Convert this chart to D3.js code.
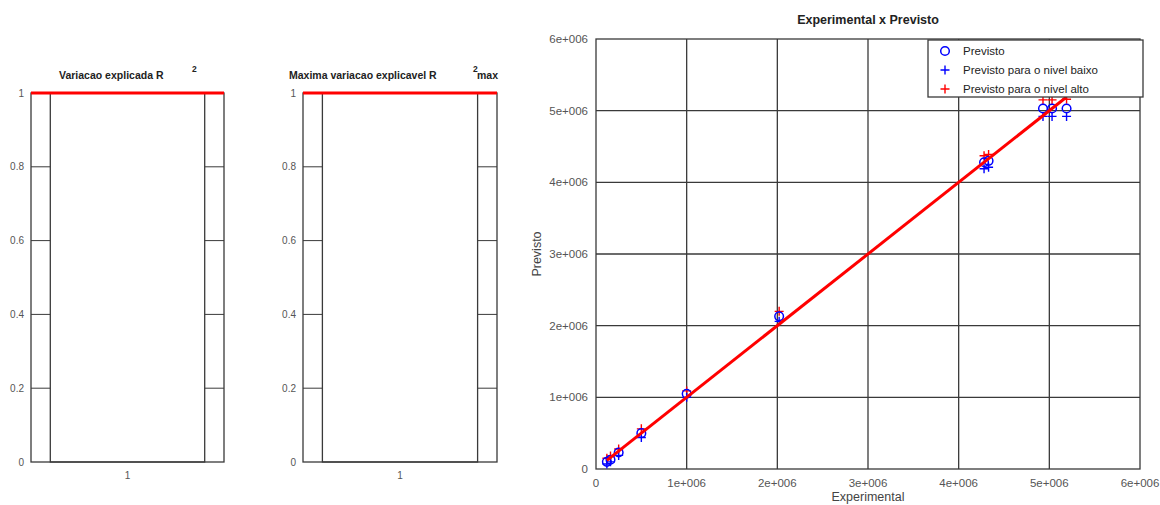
<!DOCTYPE html>
<html><head><meta charset="utf-8">
<script src="https://cdn.jsdelivr.net/npm/d3@7"></script>
<style>
body{margin:0;background:#fff;}
svg{display:block;font-family:"Liberation Sans",Arial,sans-serif;}
</style></head><body>
<svg id="c" width="1160" height="505"></svg>
<script>
// ---- data ----
const barCategories = [1];
const r2Values = [1];
const r2maxValues = [1];
const barYTicks = [0, 0.2, 0.4, 0.6, 0.8, 1];

const experimental = [120000,160000,250000,500000,1000000,2020000,4280000,4330000,4930000,5030000,5190000];
const previsto     = [100000,130000,230000,500000,1050000,2130000,4280000,4300000,5030000,5030000,5030000];
const previstoBaixo= [70000,100000,190000,440000,1000000,2060000,4190000,4210000,4920000,4920000,4920000];
const previstoAlto = [150000,180000,280000,560000,1090000,2200000,4370000,4390000,5150000,5150000,5160000];
const scatterTicks = [0,1e6,2e6,3e6,4e6,5e6,6e6];
const scatterTickLabels = ["0","1e+006","2e+006","3e+006","4e+006","5e+006","6e+006"];
const legendLabels = ["Previsto","Previsto para o nivel baixo","Previsto para o nivel alto"];

const svg = d3.select("#c");
const gridCol = "#3a3a3a", tickCol = "#555";

function barPanel(x0, x1, y0, y1, values, titleParts){
  const x = d3.scaleLinear().domain([0.5,1.5]).range([x0,x1]);
  const y = d3.scaleLinear().domain([0,1]).range([y1,y0]);
  const g = svg.append("g");
  g.selectAll("line.grid").data(barYTicks.filter(t=>t>0&&t<1)).join("line")
    .attr("x1",x0).attr("x2",x1).attr("y1",d=>y(d)).attr("y2",d=>y(d))
    .attr("stroke",gridCol).attr("stroke-width",1);
  g.selectAll("rect").data(barCategories).join("rect")
    .attr("x",d=>x(d-0.4)).attr("width",d=>x(d+0.4)-x(d-0.4))
    .attr("y",(d,i)=>y(values[i])).attr("height",(d,i)=>y(0)-y(values[i]))
    .attr("fill","#fff").attr("stroke",gridCol).attr("stroke-width",1.3);
  g.append("rect").attr("x",x0).attr("y",y0).attr("width",x1-x0).attr("height",y1-y0)
    .attr("fill","none").attr("stroke",gridCol).attr("stroke-width",1.3);
  g.selectAll("line.red").data(values).join("line")
    .attr("x1",x0).attr("x2",x1).attr("y1",d=>y(d)).attr("y2",d=>y(d))
    .attr("stroke","#ff0000").attr("stroke-width",2.8);
  g.selectAll("text.yt").data(barYTicks).join("text")
    .attr("x",x0-7).attr("y",d=>y(d)).attr("dy","0.35em").attr("text-anchor","end")
    .attr("font-size",10).attr("fill",tickCol).text(d=>d3.format("~g")(d));
  g.selectAll("text.xt").data(barCategories).join("text")
    .attr("x",d=>x(d)).attr("y",y1+17).attr("text-anchor","middle")
    .attr("font-size",10).attr("fill",tickCol).text(d=>d);
  const t = titleParts;
  g.append("text").attr("x",t.x).attr("y",y0-14).attr("font-size",10.5).attr("font-weight","bold")
    .attr("fill","#222").text(t.main);
  g.append("text").attr("x",t.supX).attr("y",y0-21).attr("font-size",8.5).attr("font-weight","bold")
    .attr("fill","#222").text("2");
  if(t.sub) g.append("text").attr("x",t.supX+4).attr("y",y0-14).attr("font-size",10.5).attr("font-weight","bold")
    .attr("fill","#222").text(t.sub);
}
barPanel(31,224,93,462,r2Values,{main:"Variacao explicada R",x:59,supX:192});
barPanel(303,497,93,462,r2maxValues,{main:"Maxima variacao explicavel R",x:289,supX:473,sub:"max"});

// ---- scatter ----
const L=596,R=1140,T=39,B=469;
const xs = d3.scaleLinear().domain([0,6e6]).range([L,R]);
const ys = d3.scaleLinear().domain([0,6e6]).range([B,T]);
const sg = svg.append("g");
sg.selectAll("line.vx").data(scatterTicks.slice(1,-1)).join("line")
  .attr("x1",d=>xs(d)).attr("x2",d=>xs(d)).attr("y1",T).attr("y2",B)
  .attr("stroke",gridCol).attr("stroke-width",1.3);
sg.selectAll("line.hy").data(scatterTicks.slice(1,-1)).join("line")
  .attr("x1",L).attr("x2",R).attr("y1",d=>ys(d)).attr("y2",d=>ys(d))
  .attr("stroke",gridCol).attr("stroke-width",1.3);
sg.append("rect").attr("x",L).attr("y",T).attr("width",R-L).attr("height",B-T)
  .attr("fill","none").attr("stroke",gridCol).attr("stroke-width",1.3);

sg.selectAll("text.xt").data(scatterTicks).join("text")
  .attr("x",d=>xs(d)).attr("y",B+18).attr("text-anchor","middle")
  .attr("font-size",11.5).attr("fill",tickCol).text((d,i)=>scatterTickLabels[i]);
sg.selectAll("text.yt").data(scatterTicks).join("text")
  .attr("x",L-8).attr("y",d=>ys(d)).attr("dy","0.35em").attr("text-anchor","end")
  .attr("font-size",11.5).attr("fill",tickCol).text((d,i)=>scatterTickLabels[i]);

const pts = experimental.map((e,i)=>({e,p:previsto[i],lo:previstoBaixo[i],hi:previstoAlto[i]}));
function plus(g, cx, cy, col){
  g.append("path").attr("d",`M${cx-4.5},${cy}H${cx+4.5}M${cx},${cy-4.5}V${cy+4.5}`)
    .attr("stroke",col).attr("stroke-width",1.4).attr("fill","none");
}
const mg = sg.append("g");
pts.forEach(d=>{ plus(mg, xs(d.e), ys(d.hi), "#ff0000"); });
pts.forEach(d=>{ plus(mg, xs(d.e), ys(d.lo), "#0000ff"); });
mg.selectAll("circle").data(pts).join("circle")
  .attr("cx",d=>xs(d.e)).attr("cy",d=>ys(d.p)).attr("r",4.3)
  .attr("fill","none").attr("stroke","#0000ff").attr("stroke-width",1.5);
const ext = d3.extent(experimental);
sg.append("line").attr("x1",xs(ext[0])).attr("y1",ys(ext[0])).attr("x2",xs(ext[1])).attr("y2",ys(ext[1]))
  .attr("stroke","#ff0000").attr("stroke-width",3);

// legend
const lg = sg.append("g");
lg.append("rect").attr("x",928).attr("y",40).attr("width",215).attr("height",57)
  .attr("fill","#fff").attr("stroke",gridCol).attr("stroke-width",1.3);
const ly = [51,70,89];
lg.append("circle").attr("cx",945).attr("cy",ly[0]).attr("r",4.3).attr("fill","none").attr("stroke","#0000ff").attr("stroke-width",1.5);
plus(lg,945,ly[1],"#0000ff");
plus(lg,945,ly[2],"#ff0000");
lg.selectAll("text").data(legendLabels).join("text")
  .attr("x",963).attr("y",(d,i)=>ly[i]).attr("dy","0.35em")
  .attr("font-size",11.5).attr("fill","#222").text(d=>d);

svg.append("text").attr("x",(L+R)/2).attr("y",24).attr("text-anchor","middle")
  .attr("font-size",12.5).attr("font-weight","bold").attr("fill","#222").text("Experimental x Previsto");
svg.append("text").attr("x",(L+R)/2).attr("y",501).attr("text-anchor","middle")
  .attr("font-size",12.5).attr("fill","#444").text("Experimental");
svg.append("text").attr("transform",`translate(541,${(T+B)/2}) rotate(-90)`).attr("text-anchor","middle")
  .attr("font-size",12.5).attr("fill","#444").text("Previsto");
</script>
</body></html>
